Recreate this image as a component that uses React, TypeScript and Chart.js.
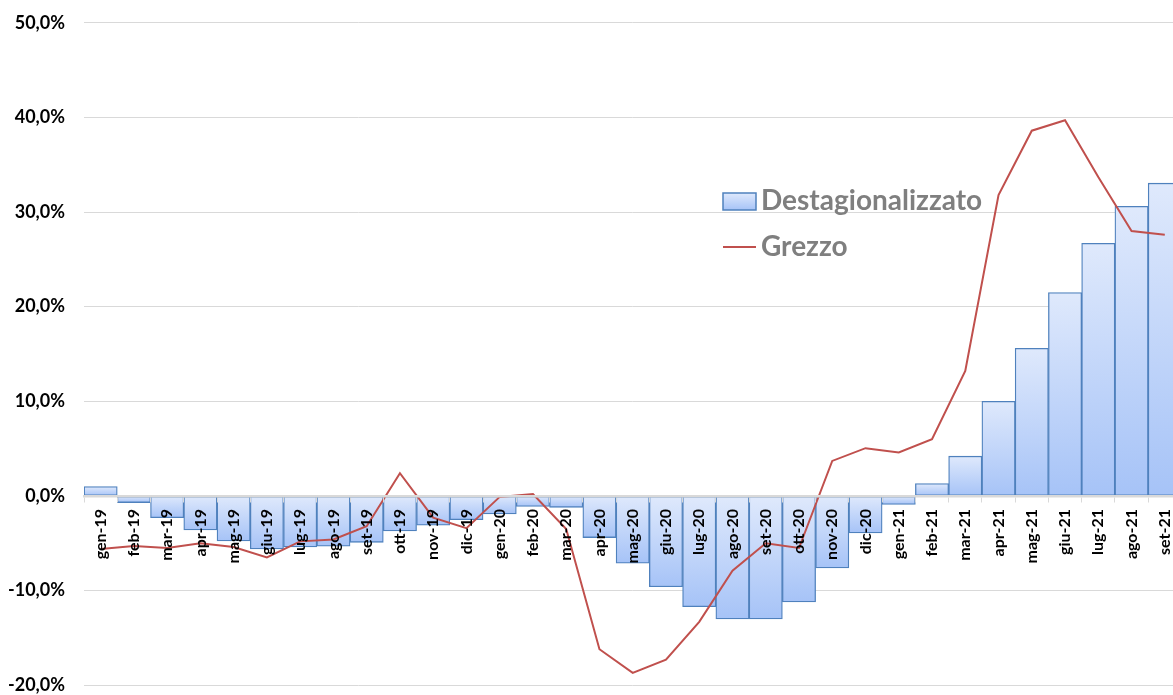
import React, { useEffect, useRef } from "react";
import { Chart, registerables } from "chart.js";

Chart.register(...registerables);

const categories = [
  "gen-19", "feb-19", "mar-19", "apr-19", "mag-19", "giu-19", "lug-19", "ago-19", "set-19", "ott-19", "nov-19", "dic-19",
  "gen-20", "feb-20", "mar-20", "apr-20", "mag-20", "giu-20", "lug-20", "ago-20", "set-20", "ott-20", "nov-20", "dic-20",
  "gen-21", "feb-21", "mar-21", "apr-21", "mag-21", "giu-21", "lug-21", "ago-21", "set-21",
];

const destagionalizzato = [
  1.0, -0.7, -2.3, -3.6, -4.75, -5.6, -5.4, -5.3, -4.9, -3.7, -3.1, -2.5,
  -1.9, -1.1, -1.2, -4.4, -7.1, -9.6, -11.7, -13.0, -13.0, -11.2, -7.6, -3.9,
  -0.9, 1.3, 4.2, 10.0, 15.6, 21.5, 26.7, 30.6, 33.05,
];

const grezzo = [
  -5.6, -5.3, -5.5, -5.0, -5.4, -6.5, -4.8, -4.6, -3.2, 2.4, -2.3, -3.4,
  -0.1, 0.2, -3.5, -16.2, -18.7, -17.3, -13.3, -7.9, -5.0, -5.5, 3.7, 5.05,
  4.6, 6.0, 13.2, 31.8, 38.6, 39.7, 33.7, 28.0, 27.6,
];

const yMin = -20;
const yMax = 50;
const yStep = 10;

const seriesNames = ["Destagionalizzato", "Grezzo"];

const FONT = "Lato, 'Open Sans', sans-serif";
const BAR_TOP = "#dfe9fc";
const BAR_BOTTOM = "#a6c3f7";
const BAR_BORDER = "#4f81bd";
const LINE_COLOR = "#c0504d";

const fmt = (v: number) => v.toFixed(1).replace(".", ",") + "%";

// canvas offset (page coordinates = canvas coordinates - SHIFT)
const SHIFT = 7;

const legendPlugin = {
  id: "customLegend",
  afterDraw(chart: any) {
    const ctx = chart.ctx as CanvasRenderingContext2D;
    const ds = chart.data.datasets;
    const barDs = ds.find((d: any) => d.type === "bar");
    const lineDs = ds.find((d: any) => d.type === "line");
    ctx.save();
    ctx.translate(0, SHIFT);
    const bx = 723, by = 193, bw = 33, bh = 17;
    const g = ctx.createLinearGradient(0, by, 0, by + bh);
    g.addColorStop(0, BAR_TOP);
    g.addColorStop(1, BAR_BOTTOM);
    ctx.fillStyle = g;
    ctx.fillRect(bx, by, bw, bh);
    ctx.strokeStyle = BAR_BORDER;
    ctx.lineWidth = 1.5;
    ctx.strokeRect(bx, by, bw, bh);
    ctx.font = `bold 28px ${FONT}`;
    ctx.fillStyle = "#7f7f7f";
    ctx.textAlign = "left";
    ctx.textBaseline = "middle";
    ctx.fillText(barDs.label, 761, 201);
    ctx.beginPath();
    ctx.moveTo(723, 247);
    ctx.lineTo(756, 247);
    ctx.strokeStyle = LINE_COLOR;
    ctx.lineWidth = 2;
    ctx.stroke();
    ctx.fillText(lineDs.label, 761, 247);
    ctx.restore();
  },
};

export default function App() {
  const ref = useRef<HTMLCanvasElement | null>(null);

  useEffect(() => {
    if (!ref.current) return;
    const chart = new Chart(ref.current, {
      type: "bar",
      data: {
        labels: categories,
        datasets: [
          {
            type: "line",
            label: seriesNames[1],
            data: grezzo,
            borderColor: LINE_COLOR,
            backgroundColor: LINE_COLOR,
            borderWidth: 2,
            pointRadius: 0,
            tension: 0,
            order: 1,
          } as any,
          {
            type: "bar",
            label: seriesNames[0],
            data: destagionalizzato,
            order: 2,
            barPercentage: 1,
            categoryPercentage: 1,
            borderColor: BAR_BORDER,
            borderWidth: 1.3,
            borderSkipped: false,
            backgroundColor: (c: any) => {
              const chart = c.chart;
              const y = chart.scales && chart.scales.y;
              if (!y || c.type !== "data") return BAR_BOTTOM;
              const p0 = y.getPixelForValue(0);
              const p1 = y.getPixelForValue(c.raw);
              const top = Math.min(p0, p1);
              const bot = Math.max(p0, p1);
              if (!isFinite(top) || !isFinite(bot)) return BAR_BOTTOM;
              const g = chart.ctx.createLinearGradient(0, top, 0, bot === top ? top + 1 : bot);
              g.addColorStop(0, BAR_TOP);
              g.addColorStop(1, BAR_BOTTOM);
              return g;
            },
          } as any,
        ],
      },
      options: {
        animation: false,
        responsive: false,
        maintainAspectRatio: false,
        devicePixelRatio: 1,
        layout: { padding: 0 },
        plugins: {
          legend: { display: false },
          tooltip: { enabled: false },
        },
        scales: {
          x: {
            position: { y: 0 } as any,
            offset: true,
            grid: {
              display: true,
              drawOnChartArea: false,
              drawTicks: true,
              tickLength: 5,
              offset: true,
              color: "#d9d9d9",
              z: 1,
            },
            border: { display: true, color: "#d9d9d9", width: 2.5, z: 1 },
            ticks: {
              z: 2,
              autoSkip: false,
              maxRotation: 90,
              minRotation: 90,
              padding: 8,
              color: "#000",
              font: { family: FONT, size: 16, weight: "bold" },
            },
          },
          y: {
            min: yMin,
            max: yMax,
            grid: { color: "#d9d9d9", lineWidth: 1, drawTicks: false },
            border: { display: false },
            afterFit: (s: any) => {
              s.width = 84;
            },
            ticks: {
              stepSize: yStep,
              padding: 19,
              color: "#000",
              font: { family: FONT, size: 18, weight: "bold" },
              callback: (v: any) => fmt(Number(v)),
            },
          },
        },
      },
      plugins: [legendPlugin],
    });
    return () => chart.destroy();
  }, []);

  return (
    <div
      style={{
        position: "fixed",
        left: 0,
        top: 0,
        width: 1173,
        height: 695,
        overflow: "hidden",
        background: "#fff",
      }}
    >
      <canvas
        ref={ref}
        width={1192}
        height={722}
        style={{ display: "block", width: 1192, height: 722, marginTop: -SHIFT }}
      />
    </div>
  );
}
